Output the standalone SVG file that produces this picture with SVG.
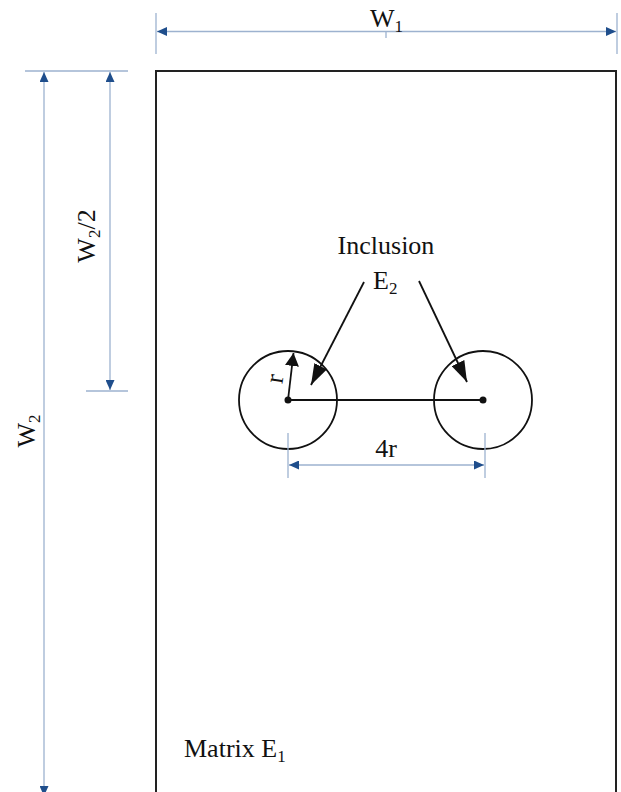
<svg xmlns="http://www.w3.org/2000/svg" width="621" height="792" viewBox="0 0 621 792">
<defs>
<style>
.dim{stroke:#9db2cf;stroke-width:1.3;fill:none}
.ext{stroke:#9db2cf;stroke-width:1.3;fill:none}
.blk{stroke:#111;stroke-width:1.8;fill:none}
.t{font-family:"Liberation Serif","Times New Roman",serif;font-size:26px;fill:#111}
.sub{font-size:17px}
</style>
<marker id="da" viewBox="0 0 10 10" refX="10" refY="5" markerWidth="10" markerHeight="9" markerUnits="userSpaceOnUse" orient="auto-start-reverse" preserveAspectRatio="none">
<path d="M0,0 L10,5 L0,10 Z" fill="#1f4e8c"/>
</marker>
<marker id="ba" viewBox="0 0 10 10" refX="10" refY="5" markerWidth="21" markerHeight="14" markerUnits="userSpaceOnUse" orient="auto" preserveAspectRatio="none">
<path d="M0,0 L10,5 L0,10 Z" fill="#111"/>
</marker>
<marker id="ra" viewBox="0 0 10 10" refX="10" refY="5" markerWidth="13" markerHeight="14" markerUnits="userSpaceOnUse" orient="auto" preserveAspectRatio="none">
<path d="M0,0 L10,5 L0,10 Z" fill="#111"/>
</marker>
</defs>
<rect width="621" height="792" fill="#fff"/>

<g id="matrix">
<rect x="156" y="71" width="460" height="760" fill="none" stroke="#222" stroke-width="2"/>
<text class="t" x="184" y="757">Matrix E<tspan class="sub" dy="5">1</tspan></text>
</g>

<g id="inclusion-left">
<circle cx="288" cy="400" r="49" class="blk"/>
<circle cx="288" cy="400" r="3.5" fill="#111"/>
</g>
<g id="inclusion-right">
<circle cx="483" cy="400" r="49" class="blk"/>
<circle cx="483" cy="400" r="3.5" fill="#111"/>
</g>

<g id="inclusion-label">
<text class="t" x="386" y="254" text-anchor="middle">Inclusion</text>
<text class="t" x="373" y="289">E<tspan class="sub" dy="5">2</tspan></text>
</g>

<g id="connectors">
<line x1="288" y1="400" x2="483" y2="400" class="blk"/>
<line x1="288" y1="400" x2="293.5" y2="353" class="blk" marker-end="url(#ra)"/>
<line x1="364" y1="282" x2="311" y2="385" class="blk" marker-end="url(#ba)"/>
<line x1="419" y1="281" x2="467" y2="382" class="blk" marker-end="url(#ba)"/>
</g>
<text class="t" x="283" y="380" text-anchor="middle" font-size="24" transform="rotate(-81 283 380)">r</text>

<g id="dim-w1">
<line x1="156" y1="13" x2="156" y2="54" class="ext"/>
<line x1="617" y1="13" x2="617" y2="54" class="ext"/>
<line x1="386" y1="31" x2="386" y2="38" class="ext"/>
<line x1="157" y1="31.5" x2="616" y2="31.5" class="dim" marker-start="url(#da)" marker-end="url(#da)"/>
<text class="t" x="370" y="27">W<tspan class="sub" dy="5">1</tspan></text>
</g>

<g id="dim-w2">
<line x1="25" y1="71" x2="128" y2="71" class="ext"/>
<line x1="44" y1="72" x2="44" y2="796" class="dim" marker-start="url(#da)" marker-end="url(#da)"/>
<text class="t" x="35" y="431" text-anchor="middle" transform="rotate(-90 35 431)">W<tspan class="sub" dy="5">2</tspan></text>
</g>

<g id="dim-w2-half">
<line x1="86" y1="391" x2="128" y2="391" class="ext"/>
<line x1="110" y1="72" x2="110" y2="390" class="dim" marker-start="url(#da)" marker-end="url(#da)"/>
<text class="t" x="95" y="236" text-anchor="middle" transform="rotate(-90 95 236)">W<tspan class="sub" dy="5">2</tspan><tspan dy="-5">/2</tspan></text>
</g>

<g id="dim-4r">
<line x1="288" y1="433" x2="288" y2="478" class="ext"/>
<line x1="485" y1="433" x2="485" y2="478" class="ext"/>
<line x1="289" y1="465" x2="484" y2="465" class="dim" marker-start="url(#da)" marker-end="url(#da)"/>
<text class="t" x="386" y="457" text-anchor="middle">4r</text>
</g>
</svg>
